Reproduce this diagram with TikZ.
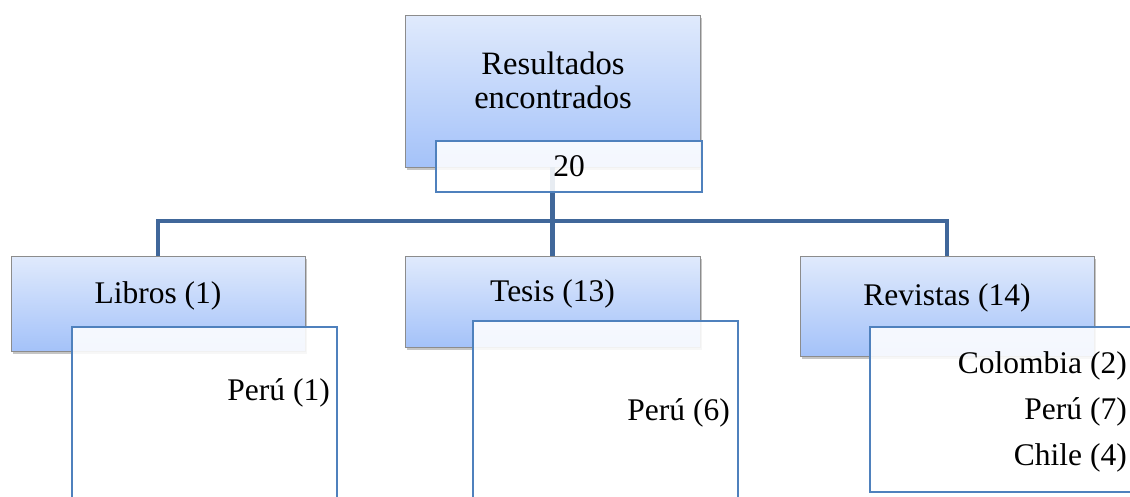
\documentclass[tikz,border=0pt]{standalone}
\usepackage{fontspec}
\setmainfont{Liberation Serif}
\usetikzlibrary{shadows}
\definecolor{gtop}{HTML}{E0EAFC}
\definecolor{gbot}{HTML}{A4C2F9}
\definecolor{gborder}{HTML}{8C8C8C}
\definecolor{wborder}{HTML}{4F81BD}
\definecolor{conn}{HTML}{40679A}
\tikzset{
  x=1pt, y=-1pt,
  bluebox/.style={draw=gborder, line width=0.8pt, top color=gtop, bottom color=gbot,
    minimum width=#1, inner sep=0pt, drop shadow={shadow xshift=1.5pt, shadow yshift=-3pt, opacity=0.45}},
  whitebox/.style={draw=wborder, line width=1.3pt, fill=white, fill opacity=0.88, draw opacity=1, inner sep=0pt},
  lbl/.style={inner sep=0pt, font=\fontsize{31.5}{36}\selectfont},
  biglbl/.style={inner sep=0pt, font=\fontsize{32.6}{36}\selectfont},
  connector/.style={draw=conn, line width=4.8pt},
}
\begin{document}
\begin{tikzpicture}
\clip (0,0) rectangle (1130,496);
\fill[white] (0,0) rectangle (1130,496);
% top box
\node[bluebox=295pt, minimum height=152pt] (top) at (552.5,91) {};
\node[biglbl, anchor=base] (t1) at (553,74) {Resultados};
\node[biglbl, anchor=base] (t2) at (553,108) {encontrados};
% child boxes
\node[bluebox=294pt, minimum height=95pt] (libros) at (158,303.5) {};
\node[bluebox=295pt, minimum height=91pt] (tesis) at (552.5,301.5) {};
\node[bluebox=294pt, minimum height=100pt] (revistas) at (947,306) {};
\node[lbl, anchor=base] (llibros) at (158,303) {Libros (1)};
\node[lbl, anchor=base] (ltesis) at (552.5,301) {Tesis (13)};
\node[lbl, anchor=base] (lrevistas) at (947,305) {Revistas (14)};
% connectors
\coordinate (bus) at (552.5,221);
\draw[connector] (top.south) -- (bus);
\draw[connector] (bus) -| (libros.north);
\draw[connector] (bus) -- (tesis.north);
\draw[connector] (bus) -| (revistas.north);
% number box
\node[whitebox, minimum width=266pt, minimum height=51pt] (num) at (569,166.5) {};
\node[lbl, anchor=base] (lnum) at (569,176) {20};
% detail boxes
\node[whitebox, minimum width=265pt, minimum height=203pt] (dlibros) at (204.5,428.5) {};
\node[whitebox, minimum width=265pt, minimum height=209pt] (dtesis) at (605.5,425.5) {};
\node[whitebox, minimum width=265pt, minimum height=165pt] (drevistas) at (1002.5,409.5) {};
\node[lbl, anchor=base east] (p1) at (330,400) {Perú (1)};
\node[lbl, anchor=base east] (p6) at (730,420) {Perú (6)};
\node[lbl, anchor=base east] (c2) at (1127,373) {Colombia (2)};
\node[lbl, anchor=base east] (p7) at (1127,419) {Perú (7)};
\node[lbl, anchor=base east] (c4) at (1127,465) {Chile (4)};
\end{tikzpicture}
\end{document}
